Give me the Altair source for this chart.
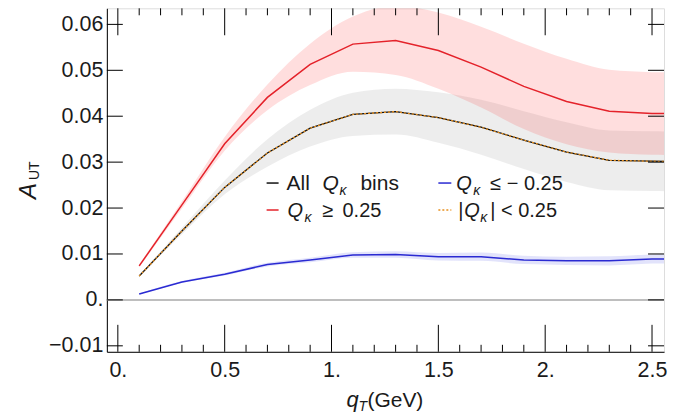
import altair as alt
import pandas as pd

# ---------------- data ----------------
qT = [0.1, 0.3, 0.5, 0.7, 0.9, 1.1, 1.3, 1.5, 1.7, 1.9, 2.1, 2.3, 2.5, 2.7]
all_bins = [0.0052, 0.0150, 0.0245, 0.0320, 0.0374, 0.0404, 0.0410, 0.0397, 0.0376, 0.0348, 0.0322, 0.0304, 0.0302, 0.0301]
all_err = [0.0002, 0.0007, 0.0015, 0.0030, 0.0040, 0.0047, 0.0050, 0.0055, 0.0060, 0.0063, 0.0065, 0.0065, 0.0065, 0.0065]
q_pos = [0.0074, 0.0207, 0.0340, 0.0441, 0.0513, 0.0557, 0.0565, 0.0543, 0.0507, 0.0465, 0.0432, 0.0411, 0.0406, 0.0405]
q_pos_err = [0.0003, 0.0008, 0.0015, 0.0028, 0.0045, 0.0060, 0.0075, 0.0083, 0.0088, 0.0093, 0.0093, 0.0090, 0.0090, 0.0090]
q_neg = [0.0013, 0.0039, 0.0056, 0.0077, 0.0087, 0.0098, 0.0099, 0.0094, 0.0094, 0.0087, 0.0085, 0.0085, 0.0089, 0.0090]
q_neg_err = [0.0001, 0.0002, 0.0003, 0.0004, 0.0005, 0.0006, 0.0007, 0.0008, 0.0009, 0.0009, 0.0009, 0.0010, 0.0010, 0.0010]
q_mid = [0.0052, 0.0150, 0.0245, 0.0320, 0.0374, 0.0404, 0.0410, 0.0397, 0.0376, 0.0348, 0.0322, 0.0304, 0.0302, 0.0301]

x_major = [0, 0.5, 1.0, 1.5, 2.0, 2.5]
x_minor = [0.1, 0.2, 0.3, 0.4, 0.6, 0.7, 0.8, 0.9, 1.1, 1.2, 1.3, 1.4,
           1.6, 1.7, 1.8, 1.9, 2.1, 2.2, 2.3, 2.4]
y_major = [-0.01, 0.0, 0.01, 0.02, 0.03, 0.04, 0.05, 0.06]

# ---------------- layout ----------------
W, H = 558, 344
OX, OY = 107, 8  # page position of plot origin
FONT = "Liberation Sans"
XDOM = [-0.0514, 2.5561]
YDOM = [-0.0113, 0.0635]


def band_df(center, err):
    return pd.DataFrame({
        "x": qT,
        "y": center,
        "lo": [c - e for c, e in zip(center, err)],
        "hi": [c + e for c, e in zip(center, err)],
    })


xs = alt.Scale(domain=XDOM, nice=False, zero=False)
ys = alt.Scale(domain=YDOM, nice=False, zero=False)

x_axis = alt.Axis(
    values=x_major, title=None, grid=False, tickSize=0, domainColor="black",
    labelFont=FONT, labelFontSize=21.5, labelColor="#1a1a1a", labelPadding=8,
    labelFlush=False, labelOverlap=False,
    labelExpr="datum.value == 0 ? '0.' : (abs(datum.value % 1) < 1e-9 ? format(datum.value, '.0f') + '.' : format(datum.value, '.1f'))",
)
y_axis = alt.Axis(
    values=y_major, title=None, grid=False, tickSize=0, domainColor="black",
    labelFont=FONT, labelFontSize=21.5, labelColor="#1a1a1a", labelPadding=4,
    labelFlush=False, labelOverlap=False,
    labelExpr="abs(datum.value) < 1e-9 ? '0.' : format(datum.value, '.2f')",
)

X = alt.X("x:Q", scale=xs, axis=x_axis)
Y = alt.Y("y:Q", scale=ys, axis=y_axis)


def band(center, err, color, opacity):
    return alt.Chart(band_df(center, err)).mark_area(
        color=color, opacity=opacity, interpolate="monotone", clip=True
    ).encode(x=X, y=alt.Y("lo:Q", scale=ys, axis=y_axis), y2="hi:Q")


def line(center, color, width, dash=None):
    kw = dict(color=color, strokeWidth=width, clip=True)
    if dash:
        kw["strokeDash"] = dash
    return alt.Chart(band_df(center, [0] * len(center))).mark_line(**kw).encode(x=X, y=Y)


bands = [
    band(all_bins, all_err, "black", 0.07),
    band(q_pos, q_pos_err, "red", 0.13),
    band(q_neg, q_neg_err, "#3a40e6", 0.15),
]

zero = alt.Chart(pd.DataFrame({"y": [0.0]})).mark_rule(color="#a8a8a8", strokeWidth=1.5).encode(y=Y)

lines = [
    line(q_pos, "#e4222a", 1.5),
    line(q_neg, "#2a2ad2", 1.5),
    line(all_bins, "#111111", 1.3),
    line(q_mid, "#e8901e", 1.3, [2, 2]),
]


# inward ticks (Mathematica-style frame)
def xticks(vals, length):
    df = pd.DataFrame({"x": vals})
    bot = alt.Chart(df).mark_rule(color="black", strokeWidth=1).encode(
        x=X, y=alt.value(H), y2=alt.value(H - length))
    top = alt.Chart(df).mark_rule(color="black", strokeWidth=1).encode(
        x=X, y=alt.value(0), y2=alt.value(length))
    return [bot, top]


ydf = pd.DataFrame({"y": y_major})
yt_left = alt.Chart(ydf).mark_rule(color="black", strokeWidth=1).encode(
    y=Y, x=alt.value(0), x2=alt.value(16))
yt_right = alt.Chart(ydf).mark_rule(color="black", strokeWidth=1).encode(
    y=Y, x=alt.value(W), x2=alt.value(W - 16))


def txt(s, px, py, size=20, style="normal", align="left", angle=0, color="#1a1a1a"):
    return alt.Chart(pd.DataFrame({"t": [s]})).mark_text(
        font=FONT, fontSize=size, fontStyle=style, align=align,
        baseline="alphabetic", angle=angle, color=color,
    ).encode(x=alt.value(px - OX), y=alt.value(py - OY), text="t:N")


def seg(color, x1, x2, py, dash=None):
    kw = dict(color=color, strokeWidth=1.5)
    if dash:
        kw["strokeDash"] = dash
    return alt.Chart(pd.DataFrame({"a": [0]})).mark_rule(**kw).encode(
        x=alt.value(x1 - OX), x2=alt.value(x2 - OX), y=alt.value(py - OY))


R1, R2 = 190, 217
legend = [
    seg("#111111", 267, 279, R1 - 7),
    txt("All", 287, R1, size=21),
    txt("Q", 323, R1, size=21, style="italic"),
    txt("κ", 340, R1 + 5, size=14, style="italic"),
    txt("bins", 361, R1, size=21),
    seg("#2a2ad2", 439, 452, R1 - 7),
    txt("Q", 457, R1, style="italic"),
    txt("κ", 474, R1 + 5, size=14, style="italic"),
    txt("≤ − 0.25", 491, R1),
    seg("#e4222a", 267, 279, R2 - 7),
    txt("Q", 288, R2, style="italic"),
    txt("κ", 305, R2 + 5, size=14, style="italic"),
    txt("≥", 323, R2),
    txt("0.25", 343, R2),
    seg("#e8901e", 439, 452, R2 - 7, [2, 2]),
    txt("|", 459, R2),
    txt("Q", 465, R2, style="italic"),
    txt("κ", 481, R2 + 5, size=14, style="italic"),
    txt("| < 0.25", 491, R2),
]

titles = [
    txt("A", 36, 199, size=24, style="italic", angle=270),
    txt("UT", 39, 180, size=14, angle=270),
    txt("q", 347, 407, size=22, style="italic"),
    txt("T", 359, 411, size=14, style="italic"),
    txt("(GeV)", 368, 407, size=21),
]

layers = bands + [zero] + lines + xticks(x_major, 27) + xticks(x_minor, 7) + [yt_left, yt_right] + legend + titles

chart = alt.layer(*layers).properties(
    width=W, height=H,
    autosize=alt.AutoSizeParams(type="none"),
    padding={"left": OX - 8, "top": OY - 8, "right": 8, "bottom": 62},
).configure_view(stroke="#555555", strokeWidth=1).configure(background="white")

chart.save("out.html", embed_options={"renderer": "svg", "actions": False})
